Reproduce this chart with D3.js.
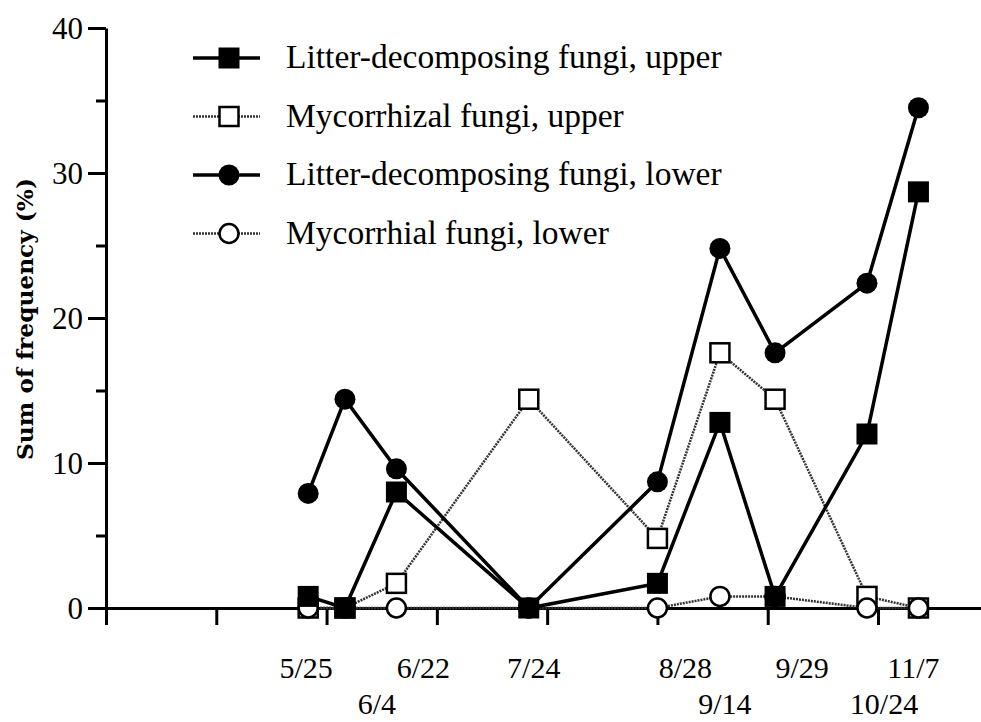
<!DOCTYPE html>
<head>
<meta charset="utf-8">
<style>
body {
  margin: 0;
  background: #fff;
}
svg text {
  font-family: "Liberation Serif", "Times New Roman", serif;
  fill: #000;
}
.axis path, .axis line {
  stroke: #000;
  stroke-width: 3px;
}
.solid {
  fill: none;
  stroke: #000;
  stroke-width: 3.5px;
}
.dotted {
  fill: none;
  stroke: #333;
  stroke-width: 2.5px;
  stroke-dasharray: 2 1;
}
</style>
</head>
<body>
<script src="https://cdn.jsdelivr.net/npm/d3@7"></script>
<script>
// sampling dates (day of year) and their labels
var days = [145, 155, 169, 205, 240, 257, 272, 297, 311];
var dateLabels = ["5/25", "6/4", "6/22", "7/24", "8/28", "9/14", "9/29", "10/24", "11/7"];

// sum of frequency (%)
var litterUpper = [0.8, 0, 8.0, 0, 1.7, 12.8, 0.8, 12.0, 28.7];
var mycoUpper   = [0, 0, 1.7, 14.4, 4.8, 17.6, 14.4, 0.8, 0];
var litterLower = [7.9, 14.4, 9.6, 0, 8.7, 24.8, 17.6, 22.4, 34.5];
var mycoLower   = [0, 0, 0, 0, 0, 0.8, 0.8, 0, 0];

var seriesNames = ["Litter-decomposing fungi, upper", "Mycorrhizal fungi, upper",
                   "Litter-decomposing fungi, lower", "Mycorrhial fungi, lower"];

var yMajor = [0, 10, 20, 30, 40];
var yMinor = [5, 15, 25, 35];
var xTicks = [90, 120, 150, 180, 210, 240, 270, 300];

(function() {
  var W = 981, H = 722;

  var svg = d3.select("body").append("svg")
    .attr("width", W)
    .attr("height", H);

  var x = d3.scaleLinear().domain([90, 300]).range([106, 878]);
  var y = d3.scaleLinear().domain([0, 40]).range([608, 28]);

  // x axis: line runs a bit left of the y axis out to the edge
  var xAxisScale = x.copy().domain([x.invert(88), x.invert(W)]).range([88, W]);
  svg.append("g")
    .attr("class", "axis")
    .attr("transform", "translate(0," + y(0) + ")")
    .call(d3.axisBottom(xAxisScale).tickValues(xTicks).tickFormat("").tickSize(17).tickSizeOuter(0));

  // y axis, major + minor ticks
  var yAxis = svg.append("g")
    .attr("class", "axis")
    .attr("transform", "translate(" + x(90) + ",0)")
    .call(d3.axisLeft(y).tickValues(yMajor).tickSize(18).tickSizeOuter(0).tickPadding(5));
  yAxis.selectAll("text")
    .style("font-family", "'Liberation Serif', 'Times New Roman', serif")
    .style("font-size", "31px")
    .attr("dy", "0.33em");
  svg.append("g")
    .attr("class", "axis")
    .attr("transform", "translate(" + x(90) + ",0)")
    .call(d3.axisLeft(y).tickValues(yMinor).tickFormat("").tickSize(10).tickSizeOuter(0))
    .select(".domain").remove();

  svg.append("text")
    .attr("transform", "translate(33," + 319 + ") rotate(-90)")
    .attr("text-anchor", "middle")
    .style("font-family", "'DejaVu Serif', serif")
    .style("font-size", "22px")
    .style("font-weight", "bold")
    .attr("textLength", 282)
    .attr("lengthAdjust", "spacingAndGlyphs")
    .text("Sum of frequency (%)");

  // date labels, staggered in two rows
  var labelRow = [0, 1, 0, 0, 0, 1, 0, 1, 0];
  var labelNudge = [-2, 32, 27, 5, 28, 5, 27, 17, -5];
  svg.selectAll(".dlabel")
    .data(dateLabels)
    .enter().append("text")
    .attr("class", "dlabel")
    .attr("x", function(d, i) { return x(days[i]) + labelNudge[i]; })
    .attr("y", function(d, i) { return labelRow[i] ? 714 : 678; })
    .attr("text-anchor", "middle")
    .style("font-size", "30px")
    .text(function(d) { return d; });

  var series = [
    {name: seriesNames[1], values: mycoUpper, line: "dotted", shape: "square", filled: false},
    {name: seriesNames[3], values: mycoLower, line: "dotted", shape: "circle", filled: false},
    {name: seriesNames[2], values: litterLower, line: "solid", shape: "circle", filled: true},
    {name: seriesNames[0], values: litterUpper, line: "solid", shape: "square", filled: true}
  ];

  var line = d3.line()
    .x(function(d, i) { return x(days[i]); })
    .y(function(d) { return y(d); });

  function marker(g, s, cx, cy) {
    var m;
    if (s.shape === "square") {
      m = g.append("rect")
        .attr("x", cx - (s.filled ? 10.5 : 9.5))
        .attr("y", cy - (s.filled ? 10.5 : 9.5))
        .attr("width", s.filled ? 21 : 19)
        .attr("height", s.filled ? 21 : 19);
    } else {
      m = g.append("circle")
        .attr("cx", cx).attr("cy", cy)
        .attr("r", s.filled ? 10.5 : 9.5);
    }
    m.attr("fill", s.filled ? "#000" : "#fff")
      .attr("stroke", "#000")
      .attr("stroke-width", s.filled ? 0 : 2.5);
  }

  // lines first, then markers on top
  series.forEach(function(s) {
    svg.append("path").attr("class", s.line).attr("d", line(s.values));
  });
  series.forEach(function(s) {
    var g = svg.append("g");
    s.values.forEach(function(v, i) {
      marker(g, s, x(days[i]), y(v));
    });
  });

  // legend
  var legendOrder = [series[3], series[0], series[2], series[1]];
  var legend = svg.append("g");
  legendOrder.forEach(function(s, i) {
    var ly = 58 + i * 58.5;
    legend.append("line").attr("class", s.line)
      .attr("x1", 193).attr("x2", 260).attr("y1", ly).attr("y2", ly);
    marker(legend, s, 229, ly);
    legend.append("text")
      .attr("x", 286).attr("y", ly + 10)
      .style("font-size", "33.5px")
      .text(s.name);
  });
})();
</script>
</body>
